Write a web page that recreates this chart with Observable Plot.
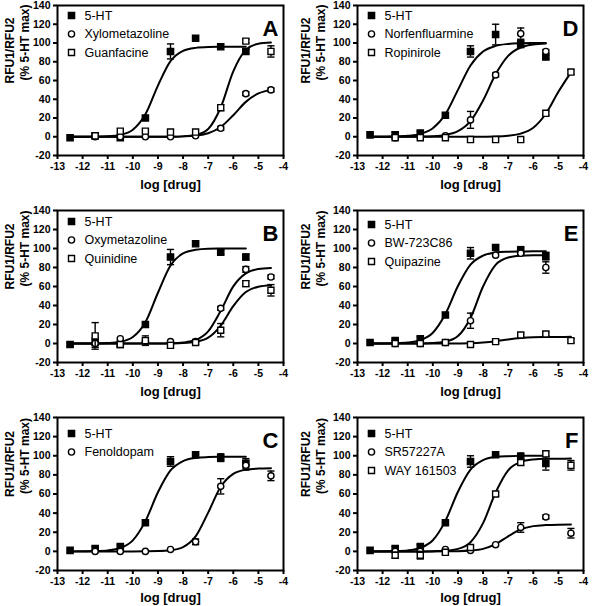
<!DOCTYPE html>
<html><head><meta charset="utf-8">
<script src="https://cdn.jsdelivr.net/npm/d3@7"></script>
<script src="https://cdn.jsdelivr.net/npm/@observablehq/plot@0.6"></script>
<style>
body{margin:0;background:#fff;}
#grid{display:grid;grid-template-columns:296px 296px;width:592px;}
#grid svg{display:block;}
</style></head><body><div id="grid"></div>
<script>
// ---- shared axes / grids ----
const doses = [-12.5, -11.5, -10.5, -9.5, -8.5, -7.5, -6.5, -5.5, -4.5];
const fitGrid = [-12.5, -12, -11.5, -11, -10.5, -10, -9.5, -9, -8.5, -8, -7.5, -7, -6.5, -6, -5.5, -5, -4.5];
const xTicks = [-13, -12, -11, -10, -9, -8, -7, -6, -5, -4];
const yTicks = [-20, 0, 20, 40, 60, 80, 100, 120, 140];

// ---- Panel A ----
const A_5HT      = [-1, 1, -1, 20, 91, 105, 96, 91, null];
const A_5HT_sem  = [0, 3, 0, 0, 8, 0, 0, 2, null];
const A_5HT_fit  = [0, 0, 0.1, 0.5, 2.0, 7.4, 23.9, 54.6, 80.6, 91.6, 94.8, 95.7, 95.9, 96, 96, null, null];
const A_xylo     = [null, 0, 0, 0, 0, 1, 9, 46, 50];
const A_xylo_sem = [null, 0, 0, 0, 0, 0, 2, 2, 2];
const A_xylo_fit = [0, 0, 0, 0, 0, 0, 0, 0, 0.1, 0.4, 1.3, 3.8, 10.4, 23.0, 37.2, 46.2, 50.0];
const A_guan     = [null, 1, 6, 6, 5, 5, 31, 102, 91];
const A_guan_sem = [null, 2, 0, 0, 0, 0, 3, 2, 6];
const A_guan_fit = [0, 0, 0, 0, 0, 0, 0, 0, 0.1, 0.4, 1.8, 8.3, 31.2, 69.8, 92.7, 99.3, 100.6];

// ---- Panel D ----
const D_5HT      = [2, 2, 4, 23, 91, 109, 99, 85, null];
const D_5HT_sem  = [0, 3, 2, 0, 6, 11, 4, 2, null];
const D_5HT_fit  = [0, 0.1, 0.3, 1.0, 3.1, 9.1, 24, 50, 76, 90.9, 96.9, 99, 99.7, 99.9, 100, null, null];
const D_norf     = [null, -1, 0, 1, 18, 66, 110, 91, null];
const D_norf_sem = [null, 0, 0, 0, 9, 2, 6, 2, null];
const D_norf_fit = [0, 0, 0, 0.1, 0.2, 0.6, 2.0, 5.9, 16.6, 38.7, 66.6, 86.3, 95.2, 98.4, 99.5, null, null];
const D_rop      = [null, -1, -1, -1, -3, -3, -3, 25, 69];
const D_rop_sem  = [null, 0, 0, 0, 0, 0, 0, 2, 2];
const D_rop_fit  = [0, 0, 0, 0, 0, 0, 0, 0, 0, 0.1, 0.3, 1.1, 3.3, 9.6, 24.5, 47.9, 68.7];

// ---- Panel B ----
const B_5HT      = [-1, 1, -1, 20, 91, 105, 96, 91, null];
const B_5HT_sem  = [2, 5, 2, 0, 8, 0, 2, 3, null];
const B_5HT_fit  = [0, 0, 0.1, 0.5, 1.8, 6.8, 22.4, 53.4, 82.1, 94.8, 98.6, 99.7, 99.9, 100, 100, null, null];
const B_oxy      = [null, 0, 5, 2, 2, 2, 37, 78, 70];
const B_oxy_sem  = [null, 0, 0, 0, 0, 0, 2, 3, 2];
const B_oxy_fit  = [0, 0, 0, 0, 0, 0, 0, 0, 0.2, 1.0, 3.7, 12.8, 34.5, 60.1, 73.8, 78.4, 79.6];
const B_quin     = [null, 8, -1, 3, -2, 1, 14, 63, 56];
const B_quin_sem = [null, 14, 0, 5, 3, 2, 7, 3, 6];
const B_quin_fit = [0, 0, 0, 0, 0, 0, 0, 0, 0.1, 0.4, 1.7, 6.1, 18.9, 39.4, 54.2, 59.8, 61.4];

// ---- Panel E ----
const E_5HT      = [1, 3, 5, 30, 95, 101, 98, 92, null];
const E_5HT_sem  = [0, 2, 2, 0, 6, 0, 4, 4, null];
const E_5HT_fit  = [0, 0.1, 0.3, 1.0, 3.5, 11.3, 31.0, 60.5, 83.0, 92.5, 95.7, 96.6, 96.9, 97, 97, null, null];
const E_bw       = [null, 0, 0, 1, 24, 93, 95, 80, null];
const E_bw_sem   = [null, 0, 0, 0, 8, 0, 2, 6, null];
const E_bw_fit   = [0, 0, 0, 0, 0.1, 0.4, 1.9, 7.8, 26.9, 60.0, 82.8, 90.5, 92.4, 92.9, 93, null, null];
const E_quip     = [null, 0, 0, 1, -1, 2, 9, 10, 3];
const E_quip_sem = [null, 0, 0, 0, 2, 2, 2, 2, 2];
const E_quip_fit = [0, 0, 0, 0, 0, 0, 0, 0.1, 0.3, 1.0, 2.3, 4.3, 5.8, 6.6, 6.8, 6.9, 7.0];

// ---- Panel C ----
const C_5HT      = [1, 3, 5, 30, 94, 101, 98, 92, null];
const C_5HT_sem  = [0, 2, 2, 0, 5, 0, 4, 5, null];
const C_5HT_fit  = [0, 0.1, 0.3, 1.0, 3.5, 11.5, 31.6, 61.8, 84.6, 94.4, 97.7, 98.6, 98.9, 99, 99, null, null];
const C_fen      = [null, 0, 0, 0, 2, 10, 68, 90, 79];
const C_fen_sem  = [null, 0, 0, 0, 0, 3, 8, 5, 5];
const C_fen_fit  = [0, 0, 0, 0, 0, 0, 0.1, 0.3, 1.2, 4.5, 15.6, 40.5, 67.5, 81.1, 85.4, 86.6, 87.0];

// ---- Panel F ----
const F_5HT      = [1, 3, 5, 30, 94, 101, 99, 92, null];
const F_5HT_sem  = [0, 2, 2, 0, 6, 0, 4, 7, null];
const F_5HT_fit  = [0, 0.1, 0.3, 1.0, 3.6, 11.6, 31.9, 62.4, 85.5, 95.4, 98.7, 99.6, 99.9, 100, 100, null, null];
const F_sr       = [null, 0, 0, 2, 1, 7, 25, 36, 19];
const F_sr_sem   = [null, 0, 0, 0, 0, 0, 5, 2, 5];
const F_sr_fit   = [0, 0, 0, 0, 0, 0, 0.1, 0.2, 0.8, 2.6, 7.5, 15.8, 23.0, 26.4, 27.5, 27.9, 28.0];
const F_way      = [null, -4, -4, -1, 4, 60, 93, 102, 90];
const F_way_sem  = [null, 3, 4, 2, 2, 2, 3, 2, 5];
const F_way_fit  = [0, 0, 0, 0, 0, 0.2, 0.7, 2.6, 9.6, 29.5, 61.6, 84.8, 93.6, 96.1, 96.8, 96.9, 97.0];

// ---- styles ----
const STY = [
  {symbol: "square", fill: "black", r: 3.5},
  {symbol: "circle", fill: "white", r: 3.1},
  {symbol: "square", fill: "white", r: 3.4}
];
const FONT = "Liberation Sans, Arial, sans-serif";
const cap = {draw(ctx, size) { const w = Math.sqrt(size / Math.PI); ctx.moveTo(-w, 0); ctx.lineTo(w, 0); }};

const rows = [{mt: 5, mb: 47, lab: 33}, {mt: 8, mb: 42, lab: 33}, {mt: 13, mb: 36, lab: 31}];
const cols = [{ml: 57, mr: 13, yl1: -47, yl2: -32}, {ml: 61, mr: 9, yl1: -51, yl2: -36}];

const panels = [
  {id: "A", row: 0, col: 0, legTop: 10, series: [
    {name: "5-HT", v: A_5HT, e: A_5HT_sem, f: A_5HT_fit},
    {name: "Xylometazoline", v: A_xylo, e: A_xylo_sem, f: A_xylo_fit},
    {name: "Guanfacine", v: A_guan, e: A_guan_sem, f: A_guan_fit}]},
  {id: "D", row: 0, col: 1, legTop: 10, series: [
    {name: "5-HT", v: D_5HT, e: D_5HT_sem, f: D_5HT_fit},
    {name: "Norfenfluarmine", v: D_norf, e: D_norf_sem, f: D_norf_fit},
    {name: "Ropinirole", v: D_rop, e: D_rop_sem, f: D_rop_fit}]},
  {id: "B", row: 1, col: 0, legTop: 11, series: [
    {name: "5-HT", v: B_5HT, e: B_5HT_sem, f: B_5HT_fit},
    {name: "Oxymetazoline", v: B_oxy, e: B_oxy_sem, f: B_oxy_fit},
    {name: "Quinidine", v: B_quin, e: B_quin_sem, f: B_quin_fit}]},
  {id: "E", row: 1, col: 1, legTop: 14, series: [
    {name: "5-HT", v: E_5HT, e: E_5HT_sem, f: E_5HT_fit},
    {name: "BW-723C86", v: E_bw, e: E_bw_sem, f: E_bw_fit},
    {name: "Quipazine", v: E_quip, e: E_quip_sem, f: E_quip_fit}]},
  {id: "C", row: 2, col: 0, legTop: 16, series: [
    {name: "5-HT", v: C_5HT, e: C_5HT_sem, f: C_5HT_fit},
    {name: "Fenoldopam", v: C_fen, e: C_fen_sem, f: C_fen_fit}]},
  {id: "F", row: 2, col: 1, legTop: 16, series: [
    {name: "5-HT", v: F_5HT, e: F_5HT_sem, f: F_5HT_fit},
    {name: "SR57227A", v: F_sr, e: F_sr_sem, f: F_sr_fit},
    {name: "WAY 161503", v: F_way, e: F_way_sem, f: F_way_fit}]}
];

function makePanel(p) {
  const R = rows[p.row], C = cols[p.col];
  const marks = [];
  // fitted curves
  p.series.forEach((s) => {
    const fit = fitGrid.map((x, i) => ({x, y: s.f[i]})).filter(d => d.y != null);
    marks.push(Plot.line(fit, {x: "x", y: "y", curve: "monotone-x", stroke: "black", strokeWidth: 2}));
  });
  // error bars + points + legend
  p.series.forEach((s, si) => {
    const pts = doses.map((x, i) => ({x, y: s.v[i], e: s.e[i]})).filter(d => d.y != null);
    const errs = pts.filter(d => d.e > 0);
    marks.push(Plot.ruleX(errs, {x: "x", y1: d => d.y - d.e, y2: d => d.y + d.e, stroke: "black", strokeWidth: 1.4}));
    marks.push(Plot.dot(errs, {x: "x", y: d => d.y + d.e, symbol: cap, r: 3.6, stroke: "black", fill: "none", strokeWidth: 1.4}));
    marks.push(Plot.dot(errs, {x: "x", y: d => d.y - d.e, symbol: cap, r: 3.6, stroke: "black", fill: "none", strokeWidth: 1.4}));
    const st = STY[si];
    marks.push(Plot.dot(pts, {x: "x", y: "y", symbol: st.symbol, r: st.r, fill: st.fill, stroke: "black", strokeWidth: 1.4}));
    const dy = p.legTop + si * 18.5;
    marks.push(Plot.dot([s.name], {frameAnchor: "top-left", dx: 14, dy, symbol: st.symbol, r: st.r, fill: st.fill, stroke: "black", strokeWidth: 1.4}));
    marks.push(Plot.text([s.name], {frameAnchor: "top-left", dx: 27, dy, text: d => d, textAnchor: "start", lineAnchor: "middle", fontSize: 12.5, fill: "black"}));
  });
  marks.push(Plot.frame({stroke: "black", strokeWidth: 2}));
  marks.push(Plot.axisX({ticks: xTicks, tickSize: 4, tickPadding: 3, tickFormat: d => String(d), fontSize: 10.5, fontWeight: "bold", strokeWidth: 2, label: null}));
  marks.push(Plot.axisY({ticks: yTicks, tickSize: 4, tickPadding: 3, tickFormat: d => String(d), fontSize: 10.5, fontWeight: "bold", strokeWidth: 2, label: null}));
  marks.push(Plot.text([p.id], {frameAnchor: "top-right", dx: -5, dy: 15, text: d => d, textAnchor: "end", lineAnchor: "top", fontSize: 22, fontWeight: "bold", fill: "black"}));
  marks.push(Plot.text(["log [drug]"], {frameAnchor: "bottom", dy: R.lab - 4, text: d => d, lineAnchor: "middle", fontSize: 13, fontWeight: "bold", fill: "black"}));
  marks.push(Plot.text(["RFU1/RFU2"], {frameAnchor: "left", dx: C.yl1, dy: 3, text: d => d, rotate: -90, lineAnchor: "middle", fontSize: 12, fontWeight: "bold", fill: "black"}));
  marks.push(Plot.text(["(% 5-HT max)"], {frameAnchor: "left", dx: C.yl2, dy: 0, text: d => d, rotate: -90, lineAnchor: "middle", fontSize: 12, fontWeight: "bold", fill: "black"}));

  return Plot.plot({
    width: 296, height: 202,
    marginLeft: C.ml, marginRight: C.mr, marginTop: R.mt, marginBottom: R.mb,
    x: {domain: [-13, -4]},
    y: {domain: [-20, 140]},
    style: {fontFamily: FONT, fontSize: "10px", background: "white", color: "black", overflow: "visible"},
    marks
  });
}

const grid = document.getElementById("grid");
for (const p of panels) grid.appendChild(makePanel(p));
</script></body></html>
